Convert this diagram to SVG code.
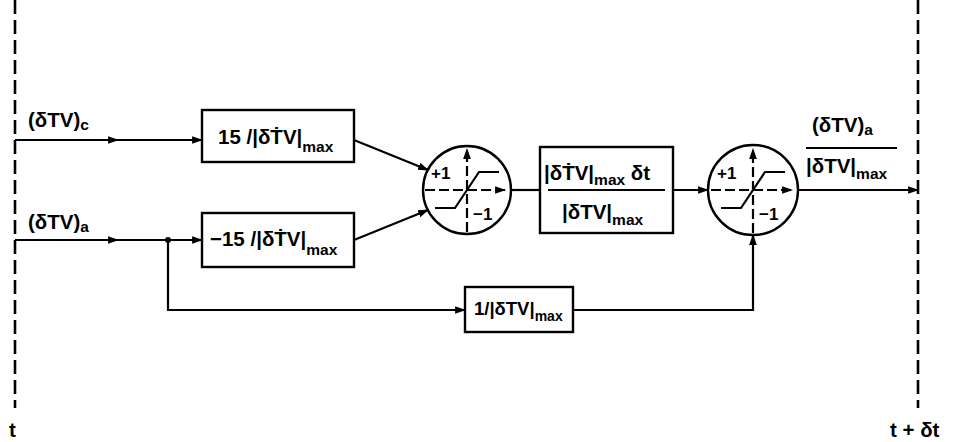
<svg xmlns="http://www.w3.org/2000/svg" width="953" height="442" viewBox="0 0 953 442">
<defs>
<marker id="ah" viewBox="0 0 10 10" refX="9" refY="5" markerWidth="11" markerHeight="11" markerUnits="userSpaceOnUse" orient="auto">
<path d="M0,1.5 L10,5 L0,8.5 Z" fill="#000"/>
</marker>
<style>
.ln{stroke:#000;stroke-width:2.2;fill:none}
.bx{stroke:#000;stroke-width:2.4;fill:#fff}
.dash{stroke:#000;stroke-width:2.6;stroke-dasharray:14 6;fill:none}
.ax{stroke:#000;stroke-width:2.2;stroke-dasharray:10 4;fill:none}
.t{font-family:"Liberation Sans",Arial,sans-serif;font-weight:bold;font-size:20.5px;fill:#000}
.s{font-size:15.5px}
.k{font-size:17px}
</style>
</defs>
<rect width="953" height="442" fill="#fff"/>
<g id="boundaries">
<line class="dash" x1="15" y1="0" x2="15" y2="408"/>
<line class="dash" x1="918" y1="0" x2="918" y2="408"/>
<text class="t" x="9" y="437">t</text>
<text class="t" x="890" y="437">t + δt</text>
</g>
<g id="connectors">
<path class="ln" d="M15,140 L118,140" marker-end="url(#ah)"/>
<path class="ln" d="M115,140 L202,140" marker-end="url(#ah)"/>
<path class="ln" d="M15,240 L118,240" marker-end="url(#ah)"/>
<path class="ln" d="M115,240 L202,240" marker-end="url(#ah)"/>
<circle cx="168" cy="240" r="3" fill="#000"/>
<path class="ln" d="M354,140 L428,170" marker-end="url(#ah)"/>
<path class="ln" d="M354,240 L428,210" marker-end="url(#ah)"/>
<path class="ln" d="M511,190 L540,190"/>
<path class="ln" d="M673,190 L708,190" marker-end="url(#ah)"/>
<path class="ln" d="M798,190 L918,190" marker-end="url(#ah)"/>
<path class="ln" d="M168,240 L168,310 L465,310" marker-end="url(#ah)"/>
<path class="ln" d="M573,310 L753,310 L753,235" marker-end="url(#ah)"/>
</g>
<g id="input-c">
<text class="t" x="28" y="127">(δTV)<tspan class="s" dy="3">c</tspan></text>
</g>
<g id="input-a">
<text class="t" x="28" y="229">(δTV)<tspan class="s" dy="3">a</tspan></text>
</g>
<g id="box1">
<rect class="bx" x="202" y="110" width="152" height="52"/>
<text class="t" x="218" y="144">15 /|δṪV|<tspan class="s" dy="8">max</tspan></text>
</g>
<g id="box2">
<rect class="bx" x="202" y="213" width="152" height="54"/>
<text class="t" x="210" y="246">−15 /|δṪV|<tspan class="s" dy="9">max</tspan></text>
</g>
<g id="limiter1">
<circle class="bx" cx="467" cy="190" r="44"/>
<line class="ax" x1="425" y1="190" x2="505" y2="190" marker-end="url(#ah)"/>
<line class="ax" x1="467" y1="232" x2="467" y2="149" marker-end="url(#ah)"/>
<path class="ln" d="M435,208 L455,208 L479,172 L499,172"/>
<text class="t k" x="431" y="179">+1</text>
<text class="t k" x="473" y="220">−1</text>
</g>
<g id="box3">
<rect class="bx" x="540" y="147" width="133" height="86"/>
<line class="ln" x1="548" y1="190" x2="665" y2="190"/>
<text class="t" x="544" y="180">|δṪV|<tspan class="s" dy="5">max</tspan><tspan dy="-5"> δt</tspan></text>
<text class="t" x="562" y="219">|δTV|<tspan class="s" dy="6">max</tspan></text>
</g>
<g id="limiter2">
<circle class="bx" cx="753" cy="190" r="45"/>
<line class="ax" x1="711" y1="190" x2="792" y2="190" marker-end="url(#ah)"/>
<line class="ax" x1="753" y1="233" x2="753" y2="149" marker-end="url(#ah)"/>
<path class="ln" d="M721,208 L741,208 L765,172 L785,172"/>
<text class="t k" x="717" y="179">+1</text>
<text class="t k" x="759" y="220">−1</text>
</g>
<g id="box4">
<rect class="bx" x="465" y="287" width="108" height="45"/>
<text class="t" x="474" y="315" style="font-size:18.5px">1/|δTV|<tspan style="font-size:14px" dy="6">max</tspan></text>
</g>
<g id="output">
<text class="t" x="812" y="132">(δTV)<tspan class="s" dy="3">a</tspan></text>
<line class="ln" x1="806" y1="148" x2="897" y2="148"/>
<text class="t" x="806" y="173">|δTV|<tspan class="s" dy="6">max</tspan></text>
</g>
</svg>
